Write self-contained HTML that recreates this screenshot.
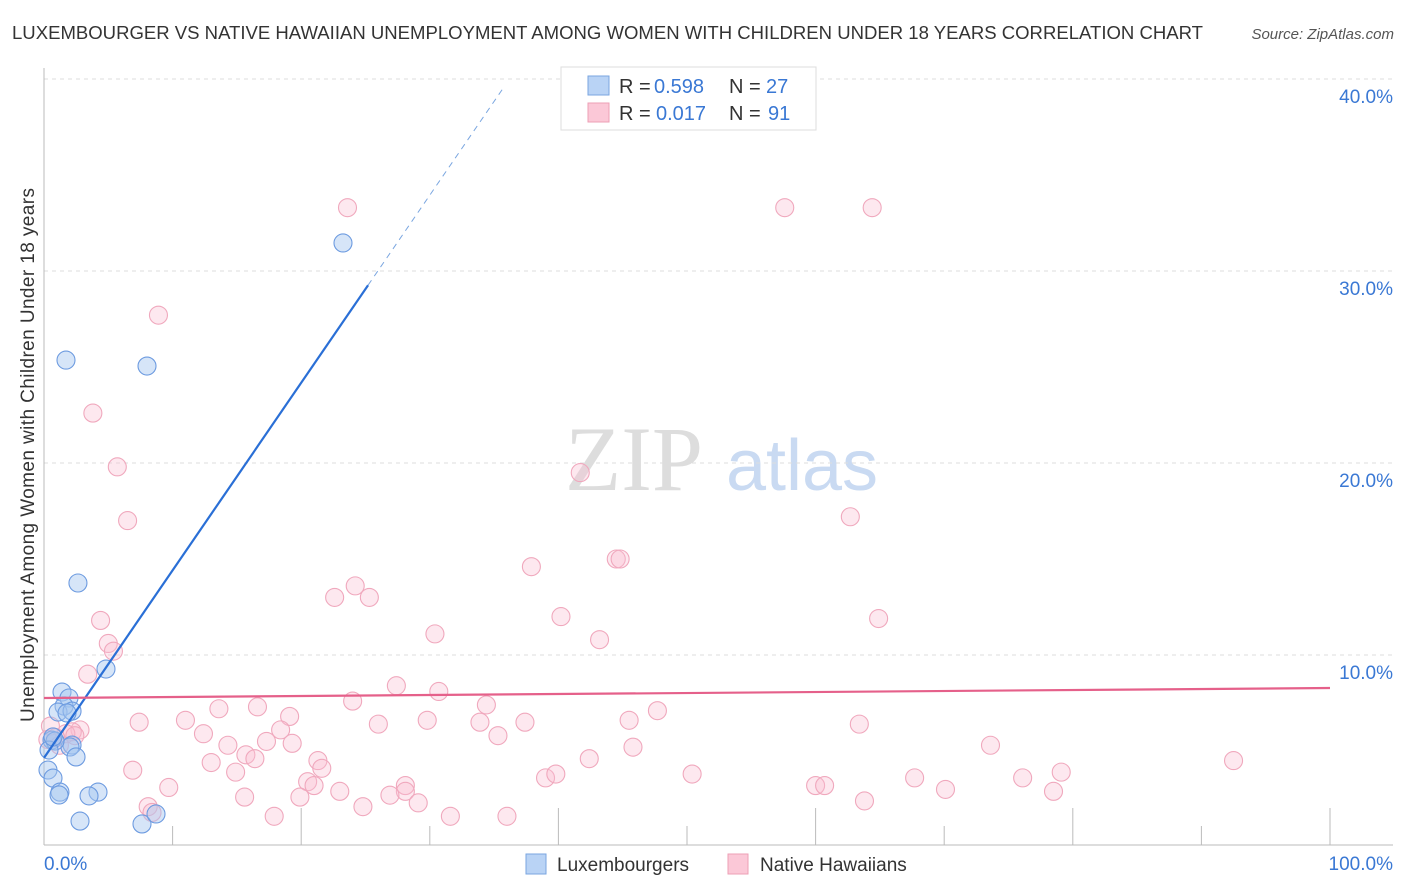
<!DOCTYPE html>
<html><head><meta charset="utf-8"><style>
body{margin:0;background:#fff;font-family:"Liberation Sans",sans-serif;}
svg{display:block}
</style></head><body>
<svg id="chart" width="1406" height="892">
<text x="12" y="39" font-size="18" fill="#333" textLength="1191" lengthAdjust="spacingAndGlyphs">LUXEMBOURGER VS NATIVE HAWAIIAN UNEMPLOYMENT AMONG WOMEN WITH CHILDREN UNDER 18 YEARS CORRELATION CHART</text>
<text x="1394" y="39" font-size="15" fill="#555" font-style="italic" text-anchor="end">Source: ZipAtlas.com</text>
<g>
<text x="634" y="490" font-size="92" fill="#ddd" font-family="Liberation Serif,serif" text-anchor="middle">ZIP</text>
<text x="802" y="490" font-size="72" fill="#c9daf2" text-anchor="middle">atlas</text>
</g>
<g id="grid"></g>
<g id="axes"></g>
<g id="points"></g>
<g id="lines"></g>
<text transform="translate(34,455) rotate(-90)" font-size="19" fill="#333" text-anchor="middle" textLength="534">Unemployment Among Women with Children Under 18 years</text>
<g>
<rect x="561" y="67" width="255" height="63" fill="#fff" stroke="#ddd"/>
<rect x="588" y="76" width="21" height="19" fill="#b9d3f5" stroke="#7aa6e0"/>
<rect x="588" y="103" width="21" height="19" fill="#fbc8d7" stroke="#ee9fb6"/>
<text x="619" y="93" font-size="20" fill="#333">R =</text>
<text x="654" y="93" font-size="20" fill="#3a78d4">0.598</text>
<text x="729" y="93" font-size="20" fill="#333">N =</text>
<text x="766" y="93" font-size="20" fill="#3a78d4">27</text>
<text x="619" y="120" font-size="20" fill="#333">R =</text>
<text x="656" y="120" font-size="20" fill="#3a78d4">0.017</text>
<text x="729" y="120" font-size="20" fill="#333">N =</text>
<text x="768" y="120" font-size="20" fill="#3a78d4">91</text>
</g>
<g>
<rect x="526" y="854" width="20" height="20" fill="#b9d3f5" stroke="#7aa6e0"/>
<text x="557" y="871" font-size="19" fill="#333">Luxembourgers</text>
<rect x="728" y="854" width="20" height="20" fill="#fbc8d7" stroke="#ee9fb6"/>
<text x="760" y="871" font-size="19" fill="#333">Native Hawaiians</text>
</g>
</svg>
<script>
const blueX=[23.25,1.71,8.01,2.64,4.82,1.40,1.94,1.56,1.09,2.18,0.62,2.18,2.02,0.86,2.49,0.31,0.70,1.24,1.17,4.20,3.50,2.80,7.62,8.71,0.39,1.79,0.70];
const blueY=[31.46,25.36,25.05,13.75,9.27,8.07,7.76,7.34,7.03,7.08,5.57,5.31,5.21,5.52,4.69,4.01,3.59,2.86,2.71,2.86,2.66,1.35,1.20,1.72,5.05,6.98,5.73];
const pinkX=[23.6,57.6,64.4,8.9,3.8,5.7,41.7,6.5,62.7,44.5,44.8,37.9,24.2,22.6,25.3,40.2,4.4,64.9,43.2,30.4,5.0,5.4,3.4,27.4,30.7,24.0,34.4,47.7,13.6,16.6,19.1,11.0,7.4,29.8,37.4,45.5,33.9,26.0,63.4,12.4,35.3,18.4,2.8,2.2,1.7,0.5,17.3,14.3,19.3,45.8,73.6,2.4,0.9,15.7,21.3,42.4,13.0,16.4,6.9,14.9,21.6,92.5,79.1,20.5,21.0,39.0,39.8,50.4,67.7,76.1,28.1,9.7,60.0,60.7,23.0,28.1,26.9,29.1,70.1,78.5,15.6,19.9,24.8,8.1,63.8,8.4,17.9,31.6,36.0,0.3,1.2];
const pinkY=[33.3,33.3,33.3,27.7,22.6,19.8,19.5,17.0,17.2,15.0,15.0,14.6,13.6,13.0,13.0,12.0,11.8,11.9,10.8,11.1,10.6,10.2,9.0,8.4,8.1,7.6,7.4,7.1,7.2,7.3,6.8,6.6,6.5,6.6,6.5,6.6,6.5,6.4,6.4,5.9,5.8,6.1,6.1,6.0,5.9,6.3,5.5,5.3,5.4,5.2,5.3,5.8,5.7,4.8,4.5,4.6,4.4,4.6,4.0,3.9,4.1,4.5,3.9,3.4,3.2,3.6,3.8,3.8,3.6,3.6,3.2,3.1,3.2,3.2,2.9,2.9,2.7,2.3,3.0,2.9,2.6,2.6,2.1,2.1,2.4,1.8,1.6,1.6,1.6,5.6,5.3];
const yTicks=[10,20,30,40];
const yTickLabels=["10.0%","20.0%","30.0%","40.0%"];
const blueTrend=[4.64,0.977];   // intercept, slope
const pinkTrend=[7.76,8.28];    // y at 0 and 100
const NS='http://www.w3.org/2000/svg';
const X=v=>44+v*12.86, Y=v=>847-v*19.2;
function mk(tag,attrs,parent){const e=document.createElementNS(NS,tag);for(const k in attrs)e.setAttribute(k,attrs[k]);document.getElementById(parent).appendChild(e);return e;}
yTicks.forEach((t,i)=>{
 const g=mk('line',{x1:44,x2:1393,y1:Y(t),y2:Y(t),stroke:'#ddd','stroke-dasharray':'4,4'},'grid');
 
 
 const l=mk('text',{x:1393,y:Y(t)+24,'font-size':19,fill:'#3a78d4','text-anchor':'end'},'grid');
 l.textContent=yTickLabels[i];
 
 
});
let a=mk('line',{x1:44,x2:44,y1:68,y2:845,stroke:'#bbb'},'axes');


a=mk('line',{x1:44,x2:1393,y1:845,y2:845,stroke:'#bbb'},'axes');


for(let i=0;i<=10;i++){
 const t=mk('line',{x1:X(i*10),x2:X(i*10),y1:i%2==0?808:826,y2:845,stroke:'#bbb'},'axes');
 
 
}
let xl=mk('text',{x:44,y:870,'font-size':19,fill:'#3a78d4'},'axes');xl.textContent='0.0%';


xl=mk('text',{x:1393,y:870,'font-size':19,fill:'#3a78d4','text-anchor':'end'},'axes');xl.textContent='100.0%';


pinkX.forEach((v,i)=>{
 const c=mk('circle',{cx:X(v),cy:Y(pinkY[i]),r:9,fill:'rgba(250,190,208,0.35)',stroke:'#f0a8bd','stroke-width':1.1},'points');
 
 
});
blueX.forEach((v,i)=>{
 const c=mk('circle',{cx:X(v),cy:Y(blueY[i]),r:9,fill:'rgba(165,198,240,0.45)',stroke:'#6d9be0','stroke-width':1.1},'points');
 
 
});
const bY=x=>blueTrend[0]+blueTrend[1]*x;
let l1=mk('line',{x1:X(0),y1:Y(bY(0)),x2:X(25.2),y2:Y(bY(25.2)),stroke:'#2a6fd6','stroke-width':2.2},'lines');


let l2=mk('line',{x1:X(25.2),y1:Y(bY(25.2)),x2:X(35.7),y2:Y(bY(35.7)),stroke:'#7aa6e0','stroke-width':1,'stroke-dasharray':'6,5'},'lines');


let l3=mk('line',{x1:X(0),y1:Y(pinkTrend[0]),x2:X(100),y2:Y(pinkTrend[1]),stroke:'#e5608a','stroke-width':2.2},'lines');


</script>
</body></html>
